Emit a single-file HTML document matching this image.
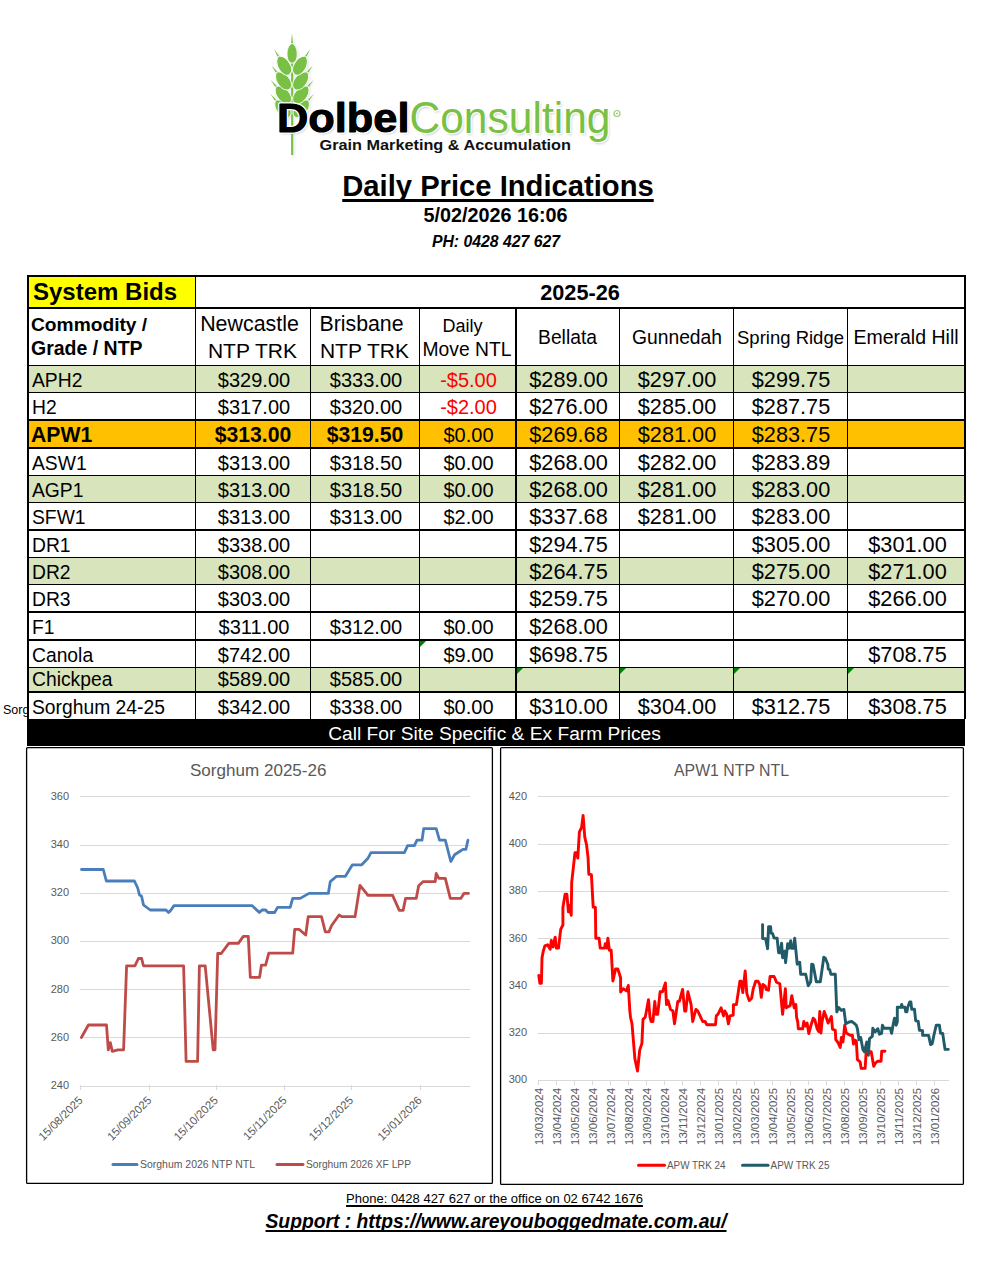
<!DOCTYPE html>
<html><head><meta charset="utf-8"><title>Daily Price Indications</title>
<style>
html,body{margin:0;padding:0;background:#fff;}
body{width:996px;height:1276px;position:relative;overflow:hidden;font-family:"Liberation Sans",sans-serif;color:#000;}
.t{position:absolute;white-space:pre;line-height:0;}
svg{position:absolute;}
</style></head><body>
<svg style="left:0;top:0" width="996" height="170" viewBox="0 0 996 170" font-family="Liberation Sans, sans-serif">
<defs><filter id="sh" x="-10%" y="-10%" width="130%" height="140%"><feGaussianBlur stdDeviation="0.9"/></filter></defs>
<g filter="url(#sh)" opacity="0.35"><rect x="292.6" y="61.2" width="2.1" height="95" fill="#B8B0D0"/><path d="M294.60,46.50 L293.50,34.50 L292.40,46.50 Z" fill="#B8B0D0"/><path d="M279.35,102.33 L271.76,94.99 L277.67,103.74 Z" fill="#B8B0D0"/><path d="M309.53,103.74 L315.44,94.99 L307.85,102.33 Z" fill="#B8B0D0"/><path d="M279.75,88.43 L272.16,81.09 L278.07,89.84 Z" fill="#B8B0D0"/><path d="M309.13,89.84 L315.04,81.09 L307.45,88.43 Z" fill="#B8B0D0"/><path d="M280.21,74.27 L272.88,66.67 L278.48,75.62 Z" fill="#B8B0D0"/><path d="M308.72,75.62 L314.32,66.67 L306.99,74.27 Z" fill="#B8B0D0"/><path d="M281.86,58.58 L275.51,50.14 L279.98,59.71 Z" fill="#B8B0D0"/><path d="M307.22,59.71 L311.69,50.14 L305.34,58.58 Z" fill="#B8B0D0"/><path transform="translate(284.1,109.7) rotate(-40)" d="M0,-10.7 C4.574999999999999,-8.56 6.1,-3.7449999999999997 6.1,1.07 C6.1,6.955 3.355,10.7 0,10.7 C-3.355,10.7 -6.1,6.955 -6.1,1.07 C-6.1,-3.7449999999999997 -4.574999999999999,-8.56 0,-10.7 Z" fill="#B8B0D0" stroke="none" stroke-width="0.9"/><path transform="translate(303.1,109.7) rotate(40)" d="M0,-10.7 C4.574999999999999,-8.56 6.1,-3.7449999999999997 6.1,1.07 C6.1,6.955 3.355,10.7 0,10.7 C-3.355,10.7 -6.1,6.955 -6.1,1.07 C-6.1,-3.7449999999999997 -4.574999999999999,-8.56 0,-10.7 Z" fill="#B8B0D0" stroke="none" stroke-width="0.9"/><path transform="translate(284.5,95.8) rotate(-40)" d="M0,-10.7 C4.574999999999999,-8.56 6.1,-3.7449999999999997 6.1,1.07 C6.1,6.955 3.355,10.7 0,10.7 C-3.355,10.7 -6.1,6.955 -6.1,1.07 C-6.1,-3.7449999999999997 -4.574999999999999,-8.56 0,-10.7 Z" fill="#B8B0D0" stroke="none" stroke-width="0.9"/><path transform="translate(302.70000000000005,95.8) rotate(40)" d="M0,-10.7 C4.574999999999999,-8.56 6.1,-3.7449999999999997 6.1,1.07 C6.1,6.955 3.355,10.7 0,10.7 C-3.355,10.7 -6.1,6.955 -6.1,1.07 C-6.1,-3.7449999999999997 -4.574999999999999,-8.56 0,-10.7 Z" fill="#B8B0D0" stroke="none" stroke-width="0.9"/><path transform="translate(284.7,81.8) rotate(-38)" d="M0,-10.7 C4.574999999999999,-8.56 6.1,-3.7449999999999997 6.1,1.07 C6.1,6.955 3.355,10.7 0,10.7 C-3.355,10.7 -6.1,6.955 -6.1,1.07 C-6.1,-3.7449999999999997 -4.574999999999999,-8.56 0,-10.7 Z" fill="#B8B0D0" stroke="none" stroke-width="0.9"/><path transform="translate(302.50000000000006,81.8) rotate(38)" d="M0,-10.7 C4.574999999999999,-8.56 6.1,-3.7449999999999997 6.1,1.07 C6.1,6.955 3.355,10.7 0,10.7 C-3.355,10.7 -6.1,6.955 -6.1,1.07 C-6.1,-3.7449999999999997 -4.574999999999999,-8.56 0,-10.7 Z" fill="#B8B0D0" stroke="none" stroke-width="0.9"/><path transform="translate(285.4,66.60000000000001) rotate(-31)" d="M0,-10.7 C4.574999999999999,-8.56 6.1,-3.7449999999999997 6.1,1.07 C6.1,6.955 3.355,10.7 0,10.7 C-3.355,10.7 -6.1,6.955 -6.1,1.07 C-6.1,-3.7449999999999997 -4.574999999999999,-8.56 0,-10.7 Z" fill="#B8B0D0" stroke="none" stroke-width="0.9"/><path transform="translate(301.80000000000007,66.60000000000001) rotate(31)" d="M0,-10.7 C4.574999999999999,-8.56 6.1,-3.7449999999999997 6.1,1.07 C6.1,6.955 3.355,10.7 0,10.7 C-3.355,10.7 -6.1,6.955 -6.1,1.07 C-6.1,-3.7449999999999997 -4.574999999999999,-8.56 0,-10.7 Z" fill="#B8B0D0" stroke="none" stroke-width="0.9"/><path transform="translate(293.6,54.400000000000006) rotate(0)" d="M0,-9.9 C3.8249999999999997,-7.920000000000001 5.1,-3.465 5.1,0.9900000000000001 C5.1,6.4350000000000005 2.805,9.9 0,9.9 C-2.805,9.9 -5.1,6.4350000000000005 -5.1,0.9900000000000001 C-5.1,-3.465 -3.8249999999999997,-7.920000000000001 0,-9.9 Z" fill="#B8B0D0" stroke="none" stroke-width="0.9"/></g>
<rect x="291.1" y="60" width="2.1" height="95" fill="#78C144"/>
<path d="M293.10,45.30 L292.00,33.30 L290.90,45.30 Z" fill="#78C144"/>
<path d="M277.85,101.13 L270.26,93.79 L276.17,102.54 Z" fill="#78C144"/>
<path d="M308.03,102.54 L313.94,93.79 L306.35,101.13 Z" fill="#78C144"/>
<path d="M278.25,87.23 L270.66,79.89 L276.57,88.64 Z" fill="#78C144"/>
<path d="M307.63,88.64 L313.54,79.89 L305.95,87.23 Z" fill="#78C144"/>
<path d="M278.71,73.07 L271.38,65.47 L276.98,74.42 Z" fill="#78C144"/>
<path d="M307.22,74.42 L312.82,65.47 L305.49,73.07 Z" fill="#78C144"/>
<path d="M280.36,57.38 L274.01,48.94 L278.48,58.51 Z" fill="#78C144"/>
<path d="M305.72,58.51 L310.19,48.94 L303.84,57.38 Z" fill="#78C144"/>
<path transform="translate(282.6,108.5) rotate(-40)" d="M0,-10.7 C4.574999999999999,-8.56 6.1,-3.7449999999999997 6.1,1.07 C6.1,6.955 3.355,10.7 0,10.7 C-3.355,10.7 -6.1,6.955 -6.1,1.07 C-6.1,-3.7449999999999997 -4.574999999999999,-8.56 0,-10.7 Z" fill="#78C144" stroke="#fff" stroke-width="0.9"/>
<path transform="translate(301.6,108.5) rotate(40)" d="M0,-10.7 C4.574999999999999,-8.56 6.1,-3.7449999999999997 6.1,1.07 C6.1,6.955 3.355,10.7 0,10.7 C-3.355,10.7 -6.1,6.955 -6.1,1.07 C-6.1,-3.7449999999999997 -4.574999999999999,-8.56 0,-10.7 Z" fill="#78C144" stroke="#fff" stroke-width="0.9"/>
<path transform="translate(283.0,94.6) rotate(-40)" d="M0,-10.7 C4.574999999999999,-8.56 6.1,-3.7449999999999997 6.1,1.07 C6.1,6.955 3.355,10.7 0,10.7 C-3.355,10.7 -6.1,6.955 -6.1,1.07 C-6.1,-3.7449999999999997 -4.574999999999999,-8.56 0,-10.7 Z" fill="#78C144" stroke="#fff" stroke-width="0.9"/>
<path transform="translate(301.20000000000005,94.6) rotate(40)" d="M0,-10.7 C4.574999999999999,-8.56 6.1,-3.7449999999999997 6.1,1.07 C6.1,6.955 3.355,10.7 0,10.7 C-3.355,10.7 -6.1,6.955 -6.1,1.07 C-6.1,-3.7449999999999997 -4.574999999999999,-8.56 0,-10.7 Z" fill="#78C144" stroke="#fff" stroke-width="0.9"/>
<path transform="translate(283.2,80.6) rotate(-38)" d="M0,-10.7 C4.574999999999999,-8.56 6.1,-3.7449999999999997 6.1,1.07 C6.1,6.955 3.355,10.7 0,10.7 C-3.355,10.7 -6.1,6.955 -6.1,1.07 C-6.1,-3.7449999999999997 -4.574999999999999,-8.56 0,-10.7 Z" fill="#78C144" stroke="#fff" stroke-width="0.9"/>
<path transform="translate(301.00000000000006,80.6) rotate(38)" d="M0,-10.7 C4.574999999999999,-8.56 6.1,-3.7449999999999997 6.1,1.07 C6.1,6.955 3.355,10.7 0,10.7 C-3.355,10.7 -6.1,6.955 -6.1,1.07 C-6.1,-3.7449999999999997 -4.574999999999999,-8.56 0,-10.7 Z" fill="#78C144" stroke="#fff" stroke-width="0.9"/>
<path transform="translate(283.9,65.4) rotate(-31)" d="M0,-10.7 C4.574999999999999,-8.56 6.1,-3.7449999999999997 6.1,1.07 C6.1,6.955 3.355,10.7 0,10.7 C-3.355,10.7 -6.1,6.955 -6.1,1.07 C-6.1,-3.7449999999999997 -4.574999999999999,-8.56 0,-10.7 Z" fill="#78C144" stroke="#fff" stroke-width="0.9"/>
<path transform="translate(300.30000000000007,65.4) rotate(31)" d="M0,-10.7 C4.574999999999999,-8.56 6.1,-3.7449999999999997 6.1,1.07 C6.1,6.955 3.355,10.7 0,10.7 C-3.355,10.7 -6.1,6.955 -6.1,1.07 C-6.1,-3.7449999999999997 -4.574999999999999,-8.56 0,-10.7 Z" fill="#78C144" stroke="#fff" stroke-width="0.9"/>
<path transform="translate(292.1,53.2) rotate(0)" d="M0,-9.9 C3.8249999999999997,-7.920000000000001 5.1,-3.465 5.1,0.9900000000000001 C5.1,6.4350000000000005 2.805,9.9 0,9.9 C-2.805,9.9 -5.1,6.4350000000000005 -5.1,0.9900000000000001 C-5.1,-3.465 -3.8249999999999997,-7.920000000000001 0,-9.9 Z" fill="#78C144" stroke="#fff" stroke-width="0.9"/>
<g filter="url(#sh)" opacity="0.5">
<text x="279" y="134" font-size="41.5" font-weight="bold" fill="#999" textLength="132.5" lengthAdjust="spacingAndGlyphs">Dolbel</text>
<text x="411" y="134.5" font-size="44.5" fill="#999" textLength="201" lengthAdjust="spacingAndGlyphs">Consulting</text>
</g>
<text x="277" y="132" font-size="41.5" font-weight="bold" fill="#000" stroke="#fff" stroke-width="3.5" stroke-linejoin="round" paint-order="stroke" textLength="132.5" lengthAdjust="spacingAndGlyphs">Dolbel</text>
<text x="277" y="132" font-size="41.5" font-weight="bold" fill="#000" stroke="#000" stroke-width="0.9" stroke-linejoin="round" textLength="132.5" lengthAdjust="spacingAndGlyphs">Dolbel</text>
<text x="409.5" y="132.5" font-size="44.5" fill="#78C144" stroke="#fff" stroke-width="2.5" stroke-linejoin="round" paint-order="stroke" textLength="201" lengthAdjust="spacingAndGlyphs">Consulting</text>
<circle cx="617" cy="113.5" r="3" fill="none" stroke="#9ACD73" stroke-width="1.2"/><circle cx="617" cy="113.5" r="1" fill="#9ACD73"/>
<text x="319.5" y="149.5" font-size="14.2" font-weight="bold" fill="#111" textLength="251.5" lengthAdjust="spacingAndGlyphs">Grain Marketing &amp; Accumulation</text>
</svg>
<div class="t" style="font-size:29.2px;font-weight:bold;left:-2px;width:1000px;text-align:center;top:186px;text-decoration:underline;text-decoration-skip-ink:none;text-decoration-thickness:2.5px;text-underline-offset:3px;">Daily Price Indications</div>
<div class="t" style="font-size:19.8px;font-weight:bold;left:-4.5px;width:1000px;text-align:center;top:215px;">5/02/2026 16:06</div>
<div class="t" style="font-size:15.8px;font-weight:bold;font-style:italic;left:-4px;width:1000px;text-align:center;top:242px;">PH: 0428 427 627</div>
<div style="position:absolute;left:29px;top:277px;width:166px;height:30px;background:#FFFF00;"></div>
<div style="position:absolute;left:29px;top:366px;width:935px;height:26px;background:#D8E4BC;"></div>
<div style="position:absolute;left:29px;top:421px;width:935px;height:26px;background:#FFC000;"></div>
<div style="position:absolute;left:29px;top:476px;width:935px;height:26px;background:#D8E4BC;"></div>
<div style="position:absolute;left:29px;top:558px;width:935px;height:26px;background:#D8E4BC;"></div>
<div style="position:absolute;left:29px;top:668px;width:935px;height:23px;background:#D8E4BC;"></div>
<div style="position:absolute;left:27px;top:719px;width:938px;height:27px;background:#000;"></div>
<div style="position:absolute;left:27px;top:275px;width:939px;height:2px;background:#000;"></div>
<div style="position:absolute;left:27px;top:307px;width:939px;height:2px;background:#000;"></div>
<div style="position:absolute;left:27px;top:365px;width:939px;height:1px;background:#000;"></div>
<div style="position:absolute;left:27px;top:392px;width:939px;height:1px;background:#000;"></div>
<div style="position:absolute;left:27px;top:419px;width:939px;height:2px;background:#000;"></div>
<div style="position:absolute;left:27px;top:447px;width:939px;height:2px;background:#000;"></div>
<div style="position:absolute;left:27px;top:475px;width:939px;height:1px;background:#000;"></div>
<div style="position:absolute;left:27px;top:502px;width:939px;height:1px;background:#000;"></div>
<div style="position:absolute;left:27px;top:529px;width:939px;height:2px;background:#000;"></div>
<div style="position:absolute;left:27px;top:557px;width:939px;height:1px;background:#000;"></div>
<div style="position:absolute;left:27px;top:584px;width:939px;height:1px;background:#000;"></div>
<div style="position:absolute;left:27px;top:611px;width:939px;height:2px;background:#000;"></div>
<div style="position:absolute;left:27px;top:639px;width:939px;height:2px;background:#000;"></div>
<div style="position:absolute;left:27px;top:667px;width:939px;height:1px;background:#000;"></div>
<div style="position:absolute;left:27px;top:691px;width:939px;height:2px;background:#000;"></div>
<div style="position:absolute;left:27px;top:275px;width:2px;height:444px;background:#000;"></div>
<div style="position:absolute;left:195px;top:275px;width:1px;height:444px;background:#000;"></div>
<div style="position:absolute;left:310px;top:307px;width:1px;height:412px;background:#000;"></div>
<div style="position:absolute;left:419px;top:307px;width:1px;height:412px;background:#000;"></div>
<div style="position:absolute;left:515px;top:307px;width:2px;height:412px;background:#000;"></div>
<div style="position:absolute;left:619px;top:307px;width:1px;height:412px;background:#000;"></div>
<div style="position:absolute;left:733px;top:307px;width:1px;height:412px;background:#000;"></div>
<div style="position:absolute;left:847px;top:307px;width:1px;height:412px;background:#000;"></div>
<div style="position:absolute;left:964px;top:275px;width:2px;height:444px;background:#000;"></div>
<div style="position:absolute;left:420px;top:641px;width:0;height:0;border-top:6px solid #008000;border-right:6px solid transparent"></div>
<div style="position:absolute;left:517px;top:668px;width:0;height:0;border-top:6px solid #008000;border-right:6px solid transparent"></div>
<div style="position:absolute;left:620px;top:668px;width:0;height:0;border-top:6px solid #008000;border-right:6px solid transparent"></div>
<div style="position:absolute;left:734px;top:668px;width:0;height:0;border-top:6px solid #008000;border-right:6px solid transparent"></div>
<div style="position:absolute;left:848px;top:668px;width:0;height:0;border-top:6px solid #008000;border-right:6px solid transparent"></div>
<div class="t" style="font-size:24px;font-weight:bold;left:33px;top:292px;">System Bids</div>
<div class="t" style="font-size:21.7px;font-weight:bold;left:80px;width:1000px;text-align:center;top:293px;">2025-26</div>
<div class="t" style="font-size:19.2px;font-weight:bold;left:31px;top:325px;">Commodity /</div>
<div class="t" style="font-size:19.5px;font-weight:bold;left:31px;top:348px;">Grade / NTP</div>
<div class="t" style="font-size:21.4px;left:-250.5px;width:1000px;text-align:center;top:324px;">Newcastle</div>
<div class="t" style="font-size:21px;left:-247.5px;width:1000px;text-align:center;top:351px;">NTP TRK</div>
<div class="t" style="font-size:21.3px;left:-138.5px;width:1000px;text-align:center;top:324px;">Brisbane</div>
<div class="t" style="font-size:21px;left:-135.5px;width:1000px;text-align:center;top:351px;">NTP TRK</div>
<div class="t" style="font-size:18px;left:-37.5px;width:1000px;text-align:center;top:326px;">Daily</div>
<div class="t" style="font-size:19.3px;left:-33px;width:1000px;text-align:center;top:350px;">Move NTL</div>
<div class="t" style="font-size:19.3px;left:67.5px;width:1000px;text-align:center;top:338px;">Bellata</div>
<div class="t" style="font-size:19.3px;left:177px;width:1000px;text-align:center;top:338px;">Gunnedah</div>
<div class="t" style="font-size:18.5px;left:290.5px;width:1000px;text-align:center;top:338px;">Spring Ridge</div>
<div class="t" style="font-size:19.5px;left:406px;width:1000px;text-align:center;top:337px;">Emerald Hill</div>
<div class="t" style="font-size:19.3px;left:32px;top:381px;">APH2</div>
<div class="t" style="font-size:20px;left:-246.0px;width:1000px;text-align:center;top:380px;">$329.00</div>
<div class="t" style="font-size:20px;left:-134.0px;width:1000px;text-align:center;top:380px;">$333.00</div>
<div class="t" style="font-size:20px;color:#FF0000;left:-31.5px;width:1000px;text-align:center;top:380px;">-$5.00</div>
<div class="t" style="font-size:21.7px;left:68.5px;width:1000px;text-align:center;top:380px;">$289.00</div>
<div class="t" style="font-size:21.7px;left:177.0px;width:1000px;text-align:center;top:380px;">$297.00</div>
<div class="t" style="font-size:21.7px;left:291.0px;width:1000px;text-align:center;top:380px;">$299.75</div>
<div class="t" style="font-size:19.3px;left:32px;top:408px;">H2</div>
<div class="t" style="font-size:20px;left:-246.0px;width:1000px;text-align:center;top:407px;">$317.00</div>
<div class="t" style="font-size:20px;left:-134.0px;width:1000px;text-align:center;top:407px;">$320.00</div>
<div class="t" style="font-size:20px;color:#FF0000;left:-31.5px;width:1000px;text-align:center;top:407px;">-$2.00</div>
<div class="t" style="font-size:21.7px;left:68.5px;width:1000px;text-align:center;top:407px;">$276.00</div>
<div class="t" style="font-size:21.7px;left:177.0px;width:1000px;text-align:center;top:407px;">$285.00</div>
<div class="t" style="font-size:21.7px;left:291.0px;width:1000px;text-align:center;top:407px;">$287.75</div>
<div class="t" style="font-size:21.2px;font-weight:bold;left:31px;top:435px;">APW1</div>
<div class="t" style="font-size:21.2px;font-weight:bold;left:-247.0px;width:1000px;text-align:center;top:435px;">$313.00</div>
<div class="t" style="font-size:21.2px;font-weight:bold;left:-135.0px;width:1000px;text-align:center;top:435px;">$319.50</div>
<div class="t" style="font-size:20px;left:-31.5px;width:1000px;text-align:center;top:435px;">$0.00</div>
<div class="t" style="font-size:21.7px;left:68.5px;width:1000px;text-align:center;top:435px;">$269.68</div>
<div class="t" style="font-size:21.7px;left:177.0px;width:1000px;text-align:center;top:435px;">$281.00</div>
<div class="t" style="font-size:21.7px;left:291.0px;width:1000px;text-align:center;top:435px;">$283.75</div>
<div class="t" style="font-size:19.3px;left:32px;top:464px;">ASW1</div>
<div class="t" style="font-size:20px;left:-246.0px;width:1000px;text-align:center;top:463px;">$313.00</div>
<div class="t" style="font-size:20px;left:-134.0px;width:1000px;text-align:center;top:463px;">$318.50</div>
<div class="t" style="font-size:20px;left:-31.5px;width:1000px;text-align:center;top:463px;">$0.00</div>
<div class="t" style="font-size:21.7px;left:68.5px;width:1000px;text-align:center;top:463px;">$268.00</div>
<div class="t" style="font-size:21.7px;left:177.0px;width:1000px;text-align:center;top:463px;">$282.00</div>
<div class="t" style="font-size:21.7px;left:291.0px;width:1000px;text-align:center;top:463px;">$283.89</div>
<div class="t" style="font-size:19.3px;left:32px;top:491px;">AGP1</div>
<div class="t" style="font-size:20px;left:-246.0px;width:1000px;text-align:center;top:490px;">$313.00</div>
<div class="t" style="font-size:20px;left:-134.0px;width:1000px;text-align:center;top:490px;">$318.50</div>
<div class="t" style="font-size:20px;left:-31.5px;width:1000px;text-align:center;top:490px;">$0.00</div>
<div class="t" style="font-size:21.7px;left:68.5px;width:1000px;text-align:center;top:490px;">$268.00</div>
<div class="t" style="font-size:21.7px;left:177.0px;width:1000px;text-align:center;top:490px;">$281.00</div>
<div class="t" style="font-size:21.7px;left:291.0px;width:1000px;text-align:center;top:490px;">$283.00</div>
<div class="t" style="font-size:19.3px;left:32px;top:518px;">SFW1</div>
<div class="t" style="font-size:20px;left:-246.0px;width:1000px;text-align:center;top:517px;">$313.00</div>
<div class="t" style="font-size:20px;left:-134.0px;width:1000px;text-align:center;top:517px;">$313.00</div>
<div class="t" style="font-size:20px;left:-31.5px;width:1000px;text-align:center;top:517px;">$2.00</div>
<div class="t" style="font-size:21.7px;left:68.5px;width:1000px;text-align:center;top:517px;">$337.68</div>
<div class="t" style="font-size:21.7px;left:177.0px;width:1000px;text-align:center;top:517px;">$281.00</div>
<div class="t" style="font-size:21.7px;left:291.0px;width:1000px;text-align:center;top:517px;">$283.00</div>
<div class="t" style="font-size:19.3px;left:32px;top:546px;">DR1</div>
<div class="t" style="font-size:20px;left:-246.0px;width:1000px;text-align:center;top:545px;">$338.00</div>
<div class="t" style="font-size:21.7px;left:68.5px;width:1000px;text-align:center;top:545px;">$294.75</div>
<div class="t" style="font-size:21.7px;left:291.0px;width:1000px;text-align:center;top:545px;">$305.00</div>
<div class="t" style="font-size:21.7px;left:407.5px;width:1000px;text-align:center;top:545px;">$301.00</div>
<div class="t" style="font-size:19.3px;left:32px;top:573px;">DR2</div>
<div class="t" style="font-size:20px;left:-246.0px;width:1000px;text-align:center;top:572px;">$308.00</div>
<div class="t" style="font-size:21.7px;left:68.5px;width:1000px;text-align:center;top:572px;">$264.75</div>
<div class="t" style="font-size:21.7px;left:291.0px;width:1000px;text-align:center;top:572px;">$275.00</div>
<div class="t" style="font-size:21.7px;left:407.5px;width:1000px;text-align:center;top:572px;">$271.00</div>
<div class="t" style="font-size:19.3px;left:32px;top:600px;">DR3</div>
<div class="t" style="font-size:20px;left:-246.0px;width:1000px;text-align:center;top:599px;">$303.00</div>
<div class="t" style="font-size:21.7px;left:68.5px;width:1000px;text-align:center;top:599px;">$259.75</div>
<div class="t" style="font-size:21.7px;left:291.0px;width:1000px;text-align:center;top:599px;">$270.00</div>
<div class="t" style="font-size:21.7px;left:407.5px;width:1000px;text-align:center;top:599px;">$266.00</div>
<div class="t" style="font-size:19.3px;left:32px;top:628px;">F1</div>
<div class="t" style="font-size:20px;left:-246.0px;width:1000px;text-align:center;top:627px;">$311.00</div>
<div class="t" style="font-size:20px;left:-134.0px;width:1000px;text-align:center;top:627px;">$312.00</div>
<div class="t" style="font-size:20px;left:-31.5px;width:1000px;text-align:center;top:627px;">$0.00</div>
<div class="t" style="font-size:21.7px;left:68.5px;width:1000px;text-align:center;top:627px;">$268.00</div>
<div class="t" style="font-size:19.3px;left:32px;top:656px;">Canola</div>
<div class="t" style="font-size:20px;left:-246.0px;width:1000px;text-align:center;top:655px;">$742.00</div>
<div class="t" style="font-size:20px;left:-31.5px;width:1000px;text-align:center;top:655px;">$9.00</div>
<div class="t" style="font-size:21.7px;left:68.5px;width:1000px;text-align:center;top:655px;">$698.75</div>
<div class="t" style="font-size:21.7px;left:407.5px;width:1000px;text-align:center;top:655px;">$708.75</div>
<div class="t" style="font-size:19.3px;left:32px;top:680px;">Chickpea</div>
<div class="t" style="font-size:20px;left:-246.0px;width:1000px;text-align:center;top:679px;">$589.00</div>
<div class="t" style="font-size:20px;left:-134.0px;width:1000px;text-align:center;top:679px;">$585.00</div>
<div class="t" style="font-size:19.3px;left:32px;top:708px;">Sorghum 24-25</div>
<div class="t" style="font-size:20px;left:-246.0px;width:1000px;text-align:center;top:707px;">$342.00</div>
<div class="t" style="font-size:20px;left:-134.0px;width:1000px;text-align:center;top:707px;">$338.00</div>
<div class="t" style="font-size:20px;left:-31.5px;width:1000px;text-align:center;top:707px;">$0.00</div>
<div class="t" style="font-size:21.7px;left:68.5px;width:1000px;text-align:center;top:707px;">$310.00</div>
<div class="t" style="font-size:21.7px;left:177.0px;width:1000px;text-align:center;top:707px;">$304.00</div>
<div class="t" style="font-size:21.7px;left:291.0px;width:1000px;text-align:center;top:707px;">$312.75</div>
<div class="t" style="font-size:21.7px;left:407.5px;width:1000px;text-align:center;top:707px;">$308.75</div>
<div class="t" style="font-size:19.2px;color:#fff;left:-5.5px;width:1000px;text-align:center;top:734px;">Call For Site Specific &amp; Ex Farm Prices</div>
<div class="t" style="font-size:12.5px;left:3px;top:710px;">Sorg</div>
<div class="t" style="font-size:13px;left:-5.5px;width:1000px;text-align:center;top:1199px;text-decoration:underline;text-decoration-skip-ink:none;text-decoration-thickness:2px;text-underline-offset:2px;">Phone: 0428 427 627 or the office on 02 6742 1676</div>
<div class="t" style="font-size:19.3px;font-weight:bold;font-style:italic;left:-4px;width:1000px;text-align:center;top:1222px;text-decoration:underline;text-decoration-skip-ink:none;text-decoration-thickness:2px;text-underline-offset:2px;">Support : https://www.areyouboggedmate.com.au/</div>
<svg style="left:0;top:0" width="996" height="1276" viewBox="0 0 996 1276" font-family="Liberation Sans, sans-serif">
<rect x="26.6" y="747.6" width="465.8" height="435.8" rx="1" fill="#fff" stroke="#000" stroke-width="1.3"/>
<text x="190" y="776" font-size="16.6" fill="#595959" textLength="136.5" lengthAdjust="spacingAndGlyphs">Sorghum 2025-26</text>
<rect x="80" y="796" width="390" height="1" fill="#D9D9D9"/>
<text x="69" y="799.7" font-size="11" fill="#595959" text-anchor="end">360</text>
<rect x="80" y="845" width="390" height="1" fill="#D9D9D9"/>
<text x="69" y="847.9" font-size="11" fill="#595959" text-anchor="end">340</text>
<rect x="80" y="893" width="390" height="1" fill="#D9D9D9"/>
<text x="69" y="896.1" font-size="11" fill="#595959" text-anchor="end">320</text>
<rect x="80" y="941" width="390" height="1" fill="#D9D9D9"/>
<text x="69" y="944.3" font-size="11" fill="#595959" text-anchor="end">300</text>
<rect x="80" y="989" width="390" height="1" fill="#D9D9D9"/>
<text x="69" y="992.5" font-size="11" fill="#595959" text-anchor="end">280</text>
<rect x="80" y="1037" width="390" height="1" fill="#D9D9D9"/>
<text x="69" y="1040.7" font-size="11" fill="#595959" text-anchor="end">260</text>
<rect x="80" y="1086" width="390" height="1" fill="#D9D9D9"/>
<text x="69" y="1088.9" font-size="11" fill="#595959" text-anchor="end">240</text>
<rect x="80" y="1085" width="1" height="5" fill="#D9D9D9"/>
<text transform="translate(83.5,1101) rotate(-45)" font-size="11.4" fill="#595959" text-anchor="end">15/08/2025</text>
<rect x="149" y="1085" width="1" height="5" fill="#D9D9D9"/>
<text transform="translate(152.2,1101) rotate(-45)" font-size="11.4" fill="#595959" text-anchor="end">15/09/2025</text>
<rect x="216" y="1085" width="1" height="5" fill="#D9D9D9"/>
<text transform="translate(218.7,1101) rotate(-45)" font-size="11.4" fill="#595959" text-anchor="end">15/10/2025</text>
<rect x="284" y="1085" width="1" height="5" fill="#D9D9D9"/>
<text transform="translate(287.4,1101) rotate(-45)" font-size="11.4" fill="#595959" text-anchor="end">15/11/2025</text>
<rect x="351" y="1085" width="1" height="5" fill="#D9D9D9"/>
<text transform="translate(353.9,1101) rotate(-45)" font-size="11.4" fill="#595959" text-anchor="end">15/12/2025</text>
<rect x="420" y="1085" width="1" height="5" fill="#D9D9D9"/>
<text transform="translate(422.6,1101) rotate(-45)" font-size="11.4" fill="#595959" text-anchor="end">15/01/2026</text>
<polyline points="81.4,1037.5 88.4,1025.0 106.5,1025.0 108.3,1049.8 110.3,1042.6 112.3,1051.4 117.8,1049.8 123.6,1049.8 126.6,965.8 134.9,965.8 138.4,958.5 141.7,958.5 143.4,965.8 183.6,965.8 186.1,1061.4 197.6,1061.4 199.4,965.8 205.2,965.8 213.2,1049.8 215.0,1049.8 217.7,953.5 221.2,953.5 228.8,943.4 238.3,943.4 243.3,936.4 248.3,936.4 250.3,977.3 259.6,977.3 261.4,965.2 265.6,965.2 268.8,953.1 292.7,953.1 294.7,929.3 299.0,929.3 305.7,935.0 308.2,916.7 321.5,916.7 325.3,931.8 329.0,931.8 331.6,925.5 339.1,915.0 341.6,916.7 355.0,916.7 360.0,885.3 368.0,895.4 392.6,895.4 399.3,910.4 403.1,910.4 405.6,898.4 416.2,898.4 418.7,885.8 423.2,881.6 435.2,881.6 436.2,873.3 438.8,878.3 445.3,878.3 450.3,898.4 460.8,898.4 463.9,893.4 468.4,893.4" fill="none" stroke="#BE4B48" stroke-width="2.8" stroke-linejoin="round" stroke-linecap="round"/>
<polyline points="81.5,869.5 103.3,869.5 106.3,881.0 134.4,881.0 137.7,888.0 139.5,895.0 141.5,896.0 143.5,905.0 150.2,910.0 166.0,910.0 168.6,912.6 171.0,910.0 174.0,905.6 252.0,905.6 259.4,912.5 262.0,910.0 265.6,910.0 268.0,912.5 274.6,912.5 277.6,907.4 290.2,907.4 292.7,898.4 300.2,898.4 309.0,893.4 328.3,893.4 330.3,881.6 336.6,876.3 345.4,876.3 352.4,864.8 361.7,864.8 368.0,858.2 371.0,852.7 404.4,852.7 407.6,845.7 414.4,845.7 417.0,840.2 422.0,840.2 423.7,828.6 436.2,828.6 439.5,840.2 445.3,840.2 450.8,861.5 454.6,854.7 459.6,851.5 462.9,849.4 465.9,849.4 467.9,840.2" fill="none" stroke="#4A7EBB" stroke-width="2.8" stroke-linejoin="round" stroke-linecap="round"/>
<line x1="113" y1="1164.5" x2="137" y2="1164.5" stroke="#4A7EBB" stroke-width="3" stroke-linecap="round"/>
<text x="140" y="1167.9" font-size="10.6" fill="#595959" textLength="115" lengthAdjust="spacingAndGlyphs">Sorghum 2026 NTP NTL</text>
<line x1="277" y1="1164.5" x2="303" y2="1164.5" stroke="#BE4B48" stroke-width="3" stroke-linecap="round"/>
<text x="306" y="1167.9" font-size="10.6" fill="#595959" textLength="105" lengthAdjust="spacingAndGlyphs">Sorghum 2026 XF LPP</text>
<rect x="500.6" y="747.6" width="462.8" height="436.8" rx="1" fill="#fff" stroke="#000" stroke-width="1.3"/>
<text x="674" y="776" font-size="16.6" fill="#595959" textLength="115" lengthAdjust="spacingAndGlyphs">APW1 NTP NTL</text>
<rect x="538" y="796" width="411" height="1" fill="#D9D9D9"/>
<text x="527" y="799.7" font-size="11" fill="#595959" text-anchor="end">420</text>
<rect x="538" y="844" width="411" height="1" fill="#D9D9D9"/>
<text x="527" y="847.0" font-size="11" fill="#595959" text-anchor="end">400</text>
<rect x="538" y="891" width="411" height="1" fill="#D9D9D9"/>
<text x="527" y="894.3" font-size="11" fill="#595959" text-anchor="end">380</text>
<rect x="538" y="938" width="411" height="1" fill="#D9D9D9"/>
<text x="527" y="941.5" font-size="11" fill="#595959" text-anchor="end">360</text>
<rect x="538" y="986" width="411" height="1" fill="#D9D9D9"/>
<text x="527" y="988.8" font-size="11" fill="#595959" text-anchor="end">340</text>
<rect x="538" y="1033" width="411" height="1" fill="#D9D9D9"/>
<text x="527" y="1036.1" font-size="11" fill="#595959" text-anchor="end">320</text>
<rect x="538" y="1080" width="411" height="1" fill="#D9D9D9"/>
<text x="527" y="1083.4" font-size="11" fill="#595959" text-anchor="end">300</text>
<rect x="538" y="1080" width="1" height="5" fill="#D9D9D9"/>
<text transform="translate(542.6,1088) rotate(-90)" font-size="11" fill="#595959" text-anchor="end" textLength="57" lengthAdjust="spacingAndGlyphs">13/03/2024</text>
<rect x="556" y="1080" width="1" height="5" fill="#D9D9D9"/>
<text transform="translate(560.6,1088) rotate(-90)" font-size="11" fill="#595959" text-anchor="end" textLength="57" lengthAdjust="spacingAndGlyphs">13/04/2024</text>
<rect x="574" y="1080" width="1" height="5" fill="#D9D9D9"/>
<text transform="translate(578.6,1088) rotate(-90)" font-size="11" fill="#595959" text-anchor="end" textLength="57" lengthAdjust="spacingAndGlyphs">13/05/2024</text>
<rect x="592" y="1080" width="1" height="5" fill="#D9D9D9"/>
<text transform="translate(596.6,1088) rotate(-90)" font-size="11" fill="#595959" text-anchor="end" textLength="57" lengthAdjust="spacingAndGlyphs">13/06/2024</text>
<rect x="610" y="1080" width="1" height="5" fill="#D9D9D9"/>
<text transform="translate(614.6,1088) rotate(-90)" font-size="11" fill="#595959" text-anchor="end" textLength="57" lengthAdjust="spacingAndGlyphs">13/07/2024</text>
<rect x="628" y="1080" width="1" height="5" fill="#D9D9D9"/>
<text transform="translate(632.6,1088) rotate(-90)" font-size="11" fill="#595959" text-anchor="end" textLength="57" lengthAdjust="spacingAndGlyphs">13/08/2024</text>
<rect x="646" y="1080" width="1" height="5" fill="#D9D9D9"/>
<text transform="translate(650.6,1088) rotate(-90)" font-size="11" fill="#595959" text-anchor="end" textLength="57" lengthAdjust="spacingAndGlyphs">13/09/2024</text>
<rect x="664" y="1080" width="1" height="5" fill="#D9D9D9"/>
<text transform="translate(668.6,1088) rotate(-90)" font-size="11" fill="#595959" text-anchor="end" textLength="57" lengthAdjust="spacingAndGlyphs">13/10/2024</text>
<rect x="682" y="1080" width="1" height="5" fill="#D9D9D9"/>
<text transform="translate(686.6,1088) rotate(-90)" font-size="11" fill="#595959" text-anchor="end" textLength="57" lengthAdjust="spacingAndGlyphs">13/11/2024</text>
<rect x="700" y="1080" width="1" height="5" fill="#D9D9D9"/>
<text transform="translate(704.6,1088) rotate(-90)" font-size="11" fill="#595959" text-anchor="end" textLength="57" lengthAdjust="spacingAndGlyphs">13/12/2024</text>
<rect x="718" y="1080" width="1" height="5" fill="#D9D9D9"/>
<text transform="translate(722.6,1088) rotate(-90)" font-size="11" fill="#595959" text-anchor="end" textLength="57" lengthAdjust="spacingAndGlyphs">13/01/2025</text>
<rect x="736" y="1080" width="1" height="5" fill="#D9D9D9"/>
<text transform="translate(740.6,1088) rotate(-90)" font-size="11" fill="#595959" text-anchor="end" textLength="57" lengthAdjust="spacingAndGlyphs">13/02/2025</text>
<rect x="754" y="1080" width="1" height="5" fill="#D9D9D9"/>
<text transform="translate(758.6,1088) rotate(-90)" font-size="11" fill="#595959" text-anchor="end" textLength="57" lengthAdjust="spacingAndGlyphs">13/03/2025</text>
<rect x="772" y="1080" width="1" height="5" fill="#D9D9D9"/>
<text transform="translate(776.6,1088) rotate(-90)" font-size="11" fill="#595959" text-anchor="end" textLength="57" lengthAdjust="spacingAndGlyphs">13/04/2025</text>
<rect x="790" y="1080" width="1" height="5" fill="#D9D9D9"/>
<text transform="translate(794.6,1088) rotate(-90)" font-size="11" fill="#595959" text-anchor="end" textLength="57" lengthAdjust="spacingAndGlyphs">13/05/2025</text>
<rect x="808" y="1080" width="1" height="5" fill="#D9D9D9"/>
<text transform="translate(812.6,1088) rotate(-90)" font-size="11" fill="#595959" text-anchor="end" textLength="57" lengthAdjust="spacingAndGlyphs">13/06/2025</text>
<rect x="826" y="1080" width="1" height="5" fill="#D9D9D9"/>
<text transform="translate(830.6,1088) rotate(-90)" font-size="11" fill="#595959" text-anchor="end" textLength="57" lengthAdjust="spacingAndGlyphs">13/07/2025</text>
<rect x="844" y="1080" width="1" height="5" fill="#D9D9D9"/>
<text transform="translate(848.6,1088) rotate(-90)" font-size="11" fill="#595959" text-anchor="end" textLength="57" lengthAdjust="spacingAndGlyphs">13/08/2025</text>
<rect x="862" y="1080" width="1" height="5" fill="#D9D9D9"/>
<text transform="translate(866.6,1088) rotate(-90)" font-size="11" fill="#595959" text-anchor="end" textLength="57" lengthAdjust="spacingAndGlyphs">13/09/2025</text>
<rect x="880" y="1080" width="1" height="5" fill="#D9D9D9"/>
<text transform="translate(884.6,1088) rotate(-90)" font-size="11" fill="#595959" text-anchor="end" textLength="57" lengthAdjust="spacingAndGlyphs">13/10/2025</text>
<rect x="898" y="1080" width="1" height="5" fill="#D9D9D9"/>
<text transform="translate(902.6,1088) rotate(-90)" font-size="11" fill="#595959" text-anchor="end" textLength="57" lengthAdjust="spacingAndGlyphs">13/11/2025</text>
<rect x="916" y="1080" width="1" height="5" fill="#D9D9D9"/>
<text transform="translate(920.6,1088) rotate(-90)" font-size="11" fill="#595959" text-anchor="end" textLength="57" lengthAdjust="spacingAndGlyphs">13/12/2025</text>
<rect x="934" y="1080" width="1" height="5" fill="#D9D9D9"/>
<text transform="translate(938.6,1088) rotate(-90)" font-size="11" fill="#595959" text-anchor="end" textLength="57" lengthAdjust="spacingAndGlyphs">13/01/2026</text>
<polyline points="538.8,975.5 539.9,983.2 541.4,983.2 542.0,958.0 543.2,951.4 544.9,945.9 547.6,944.8 550.2,949.2 551.3,940.4 553.0,947.0 555.2,937.1 556.3,948.1 558.5,948.1 560.7,929.4 562.9,925.0 562.9,907.5 565.1,894.3 566.9,894.3 568.4,911.9 569.5,905.3 571.2,915.2 571.7,882.3 575.0,852.7 576.5,852.7 577.8,858.1 579.4,831.8 581.6,827.4 583.1,815.4 584.8,837.3 586.6,845.0 588.1,858.1 588.8,874.2 591.4,874.6 593.2,907.1 595.4,907.5 595.8,938.2 599.1,938.2 600.2,948.1 604.6,948.1 605.3,943.7 606.8,948.1 607.9,938.2 609.4,950.3 611.2,950.3 612.9,981.0 615.6,968.9 617.8,968.9 620.6,977.7 620.6,992.0 623.2,988.7 626.5,990.9 628.3,985.4 629.8,1010.6 630.5,1017.2 632.0,1023.8 634.9,1058.9 637.5,1071.0 639.7,1050.1 641.9,1043.5 643.0,1019.4 645.2,1017.2 646.3,1011.7 648.5,999.6 650.0,1017.2 651.2,1021.5 652.9,1021.5 654.8,1001.4 656.1,1014.3 657.7,1014.3 660.1,991.8 662.5,991.8 665.4,982.9 666.5,1004.6 668.1,1000.6 670.5,1009.4 672.9,1011.0 674.5,1023.9 677.8,1001.4 679.4,1001.4 682.6,989.4 684.7,1011.0 685.8,1011.0 687.9,991.8 691.1,1004.6 692.7,1021.5 695.9,1009.4 697.8,1011.0 702.7,1021.5 705.1,1021.5 706.7,1024.7 715.5,1024.7 716.3,1015.9 717.9,1014.3 721.1,1007.8 723.5,1015.9 724.8,1011.0 726.7,1014.3 728.4,1023.9 730.0,1015.9 733.2,1015.1 733.5,1004.6 736.4,1004.6 739.9,981.3 741.2,981.3 742.8,992.6 745.2,970.9 746.8,993.4 749.2,1000.6 751.6,998.2 753.3,988.6 755.7,981.3 758.1,981.3 759.7,984.5 761.3,997.4 762.9,984.5 765.3,986.1 766.1,989.4 768.5,990.2 770.1,976.5 774.1,976.5 776.5,982.1 779.8,983.7 782.6,1014.3 785.4,988.6 786.2,1007.8 790.2,1005.4 791.8,995.8 794.2,1007.8 795.8,1004.6 796.6,1017.5 797.7,1021.5 798.3,1028.7 802.7,1028.7 803.8,1021.5 805.5,1025.9 807.1,1023.1 808.8,1033.6 811.0,1025.3 813.2,1018.2 814.8,1019.8 817.1,1028.7 818.7,1031.4 819.8,1011.5 820.9,1033.1 822.0,1022.0 824.2,1011.5 825.9,1016.0 828.1,1023.1 831.4,1016.5 832.5,1029.2 835.3,1030.3 835.8,1039.7 838.0,1042.5 840.2,1047.4 841.4,1037.5 843.0,1041.9 844.7,1025.3 846.3,1033.1 850.2,1035.3 852.4,1035.3 853.5,1044.1 854.6,1040.2 856.3,1040.8 857.4,1059.6 860.1,1061.8 861.2,1068.4 865.1,1068.4 866.2,1051.8 867.3,1043.0 868.4,1051.8 871.2,1051.8 873.7,1066.2 875.6,1062.9 877.8,1061.2 881.1,1061.2 881.7,1051.3 885.0,1051.3" fill="none" stroke="#FF0000" stroke-width="2.9" stroke-linejoin="round" stroke-linecap="round"/>
<polyline points="762.6,924.6 762.6,938.6 765.6,938.6 767.6,948.7 768.6,926.6 770.6,926.6 771.1,933.1 772.6,933.6 774.1,938.1 777.1,938.1 778.6,952.7 780.1,952.7 781.6,943.1 782.6,957.7 784.6,951.2 785.6,962.7 787.7,943.6 789.2,948.2 790.7,940.6 791.7,948.2 793.7,948.2 794.7,938.1 797.2,964.2 799.7,962.2 800.7,974.3 805.7,974.3 808.2,985.8 810.7,981.8 811.7,964.2 813.1,964.7 816.3,981.8 820.3,981.8 823.8,957.2 825.3,958.2 827.8,964.2 828.3,969.2 829.8,969.7 830.8,974.3 835.3,974.3 836.8,1011.9 838.4,1007.4 841.4,1010.4 843.9,1009.4 845.8,1023.7 849.1,1022.0 851.8,1021.5 854.0,1023.1 856.3,1025.3 857.4,1028.7 859.0,1039.7 860.7,1037.5 862.9,1049.6 864.5,1051.8 866.8,1041.9 868.4,1055.2 869.5,1038.6 872.3,1036.4 872.8,1028.1 875.0,1032.0 877.8,1028.7 879.5,1034.2 881.6,1033.4 882.4,1025.3 884.0,1028.2 890.4,1028.2 891.6,1033.4 893.3,1023.7 894.5,1018.1 896.1,1025.3 897.3,1022.1 897.3,1007.3 900.9,1007.3 901.7,1004.5 902.5,1007.3 904.9,1007.3 905.7,1011.7 906.9,1011.7 907.7,1007.3 909.7,1002.0 910.9,1002.0 911.7,1009.3 914.5,1009.3 915.7,1020.9 918.2,1021.3 919.4,1030.2 922.6,1030.6 922.6,1035.4 928.6,1035.4 930.6,1044.6 932.2,1043.8 933.8,1035.8 936.2,1025.3 939.4,1025.3 940.6,1033.4 942.7,1033.4 944.3,1044.6 945.1,1049.4 948.3,1049.4" fill="none" stroke="#215A69" stroke-width="2.9" stroke-linejoin="round" stroke-linecap="round"/>
<line x1="638.5" y1="1165.3" x2="664.5" y2="1165.3" stroke="#FF0000" stroke-width="3" stroke-linecap="round"/>
<text x="667" y="1168.6" font-size="10.6" fill="#595959" textLength="58.5" lengthAdjust="spacingAndGlyphs">APW TRK 24</text>
<line x1="742.5" y1="1165.3" x2="768" y2="1165.3" stroke="#215A69" stroke-width="3" stroke-linecap="round"/>
<text x="770.6" y="1168.6" font-size="10.6" fill="#595959" textLength="58.8" lengthAdjust="spacingAndGlyphs">APW TRK 25</text>
</svg>
</body></html>
